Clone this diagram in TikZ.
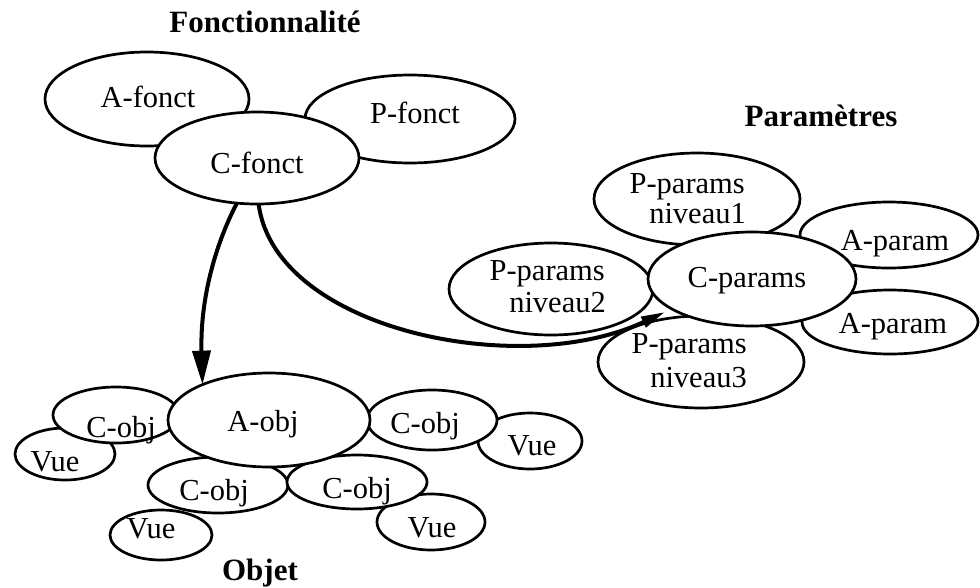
\documentclass[tikz,border=0pt]{standalone}
\usepackage{fontspec}
\setmainfont{Liberation Serif}
\usetikzlibrary{shapes.geometric,arrows.meta}
\begin{document}
\begin{tikzpicture}[x=1pt,y=-1pt,
  blob/.style={ellipse,draw,fill=white,line width=2.7pt,inner sep=0pt,outer sep=0pt},
  lbl/.style={inner sep=0pt,anchor=base,font=\fontsize{30.5}{31}\selectfont},
  lblr/.style={lbl,anchor=base east},
  ttl/.style={inner sep=0pt,anchor=base,font=\fontsize{31}{32}\selectfont\bfseries},
  link/.style={line width=4pt}]
\useasboundingbox (0,0) rectangle (980,587);

% ---------- Fonctionnalite ----------
\node[ttl] (tfonct) at (265,32) {Fonctionnalité};
\node[blob,minimum width=204pt,minimum height=94pt] (afonct) at (147,99) {};
\node[blob,minimum width=210pt,minimum height=88pt] (pfonct) at (410,119) {};
\node[blob,minimum width=204pt,minimum height=92pt] (cfonct) at (257,158) {};
\node[lbl] (afonct-t) at (148,107) {A-fonct};
\node[lbl] (pfonct-t) at (415,123) {P-fonct};
\node[lbl] (cfonct-t) at (257,173) {C-fonct};

% ---------- Parametres ----------
\node[ttl] (tparam) at (821,126) {Paramètres};
\node[blob,minimum width=206pt,minimum height=92pt] (niv1) at (697,199) {};
\node[blob,minimum width=178pt,minimum height=66pt] (apar1) at (889,235) {};
\node[blob,minimum width=204pt,minimum height=92pt] (niv2) at (551,289) {};
\node[blob,minimum width=176pt,minimum height=64pt] (apar2) at (890,322) {};
\node[blob,minimum width=206pt,minimum height=92pt] (niv3) at (701,362) {};
\node[blob,minimum width=208pt,minimum height=94pt] (cparams) at (752,279) {};
\node[lblr] (niv1-a) at (745,193) {P-params};
\node[lblr] (niv1-b) at (746,223) {niveau1};
\node[lblr] (niv2-a) at (605,280) {P-params};
\node[lblr] (niv2-b) at (606,312) {niveau2};
\node[lblr] (niv3-a) at (747,353) {P-params};
\node[lblr] (niv3-b) at (747,387) {niveau3};
\node[lbl] (apar1-t) at (895,250) {A-param};
\node[lbl] (apar2-t) at (893,333) {A-param};
\node[lbl] (cparams-t) at (747,287) {C-params};

% ---------- Objet ----------
\node[ttl] (tobj) at (260,580) {Objet};
\node[blob,minimum width=100pt,minimum height=52pt] (vue1) at (65,454) {};
\node[blob,minimum width=102pt,minimum height=50pt] (vue2) at (161,535) {};
\node[blob,minimum width=108pt,minimum height=56pt] (vue3) at (431,522) {};
\node[blob,minimum width=104pt,minimum height=56pt] (vue4) at (530,441) {};
\node[blob,minimum width=126pt,minimum height=56pt] (cobj1) at (116,415) {};
\node[blob,minimum width=140pt,minimum height=56pt] (cobj2) at (218,485) {};
\node[blob,minimum width=140pt,minimum height=54pt] (cobj3) at (357,482) {};
\node[blob,minimum width=130pt,minimum height=60pt] (cobj4) at (432,420) {};
\node[blob,minimum width=202pt,minimum height=94pt] (aobj) at (269,420) {};
\node[lbl] (aobj-t) at (263,431) {A-obj};
\node[lbl] (cobj1-t) at (121,437) {C-obj};
\node[lbl] (cobj2-t) at (214,500) {C-obj};
\node[lbl] (cobj3-t) at (357,498) {C-obj};
\node[lbl] (cobj4-t) at (425,433) {C-obj};
\node[lbl] (vue1-t) at (55,471) {Vue};
\node[lbl] (vue2-t) at (151,538) {Vue};
\node[lbl] (vue3-t) at (432,537) {Vue};
\node[lbl] (vue4-t) at (532,455) {Vue};

% ---------- links ----------
\coordinate (ptip) at (665,312);
\draw[link,-{Triangle[length=34pt,width=18pt]}]
  (cfonct.246) .. controls (215,245) and (200,300) .. (aobj.152);
\draw[link,-{Triangle[length=24pt,width=11pt]}]
  (cfonct.272) .. controls (275,330) and (520,380) .. (ptip);
\end{tikzpicture}
\end{document}
